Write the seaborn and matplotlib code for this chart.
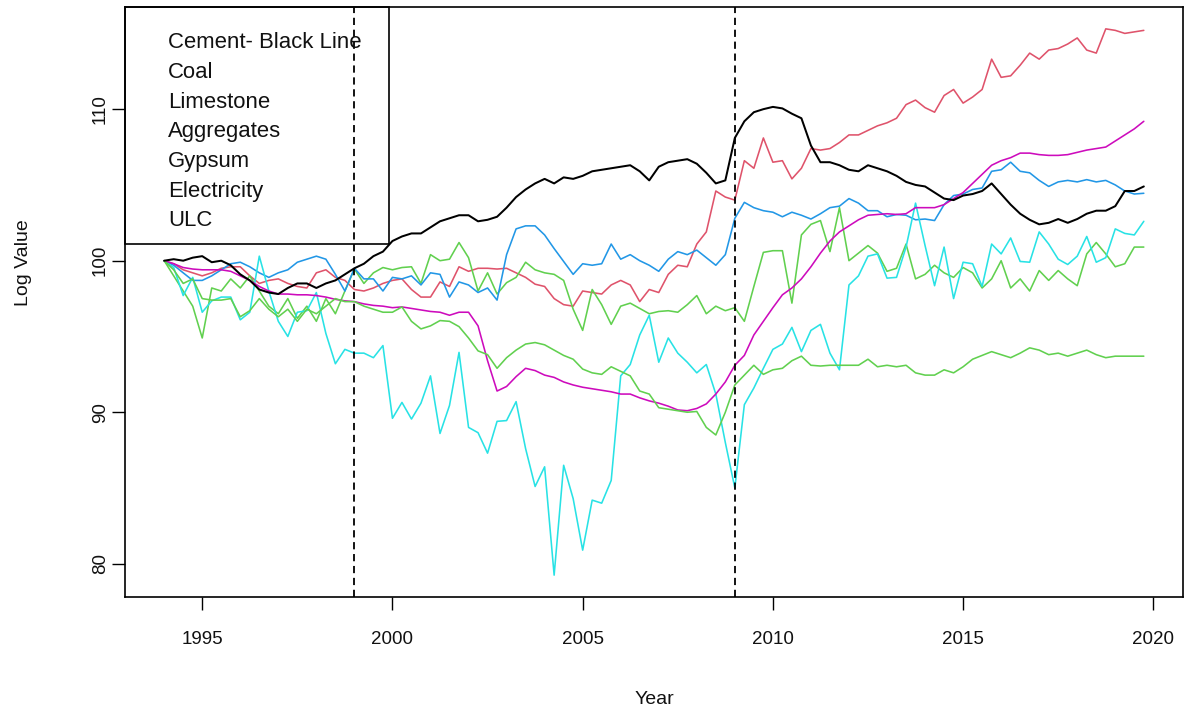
import numpy as np
import pandas as pd
import matplotlib
matplotlib.use("Agg")
import matplotlib.pyplot as plt
import seaborn as sns
from matplotlib.patches import Rectangle

# Quarterly observations, 1994 Q1 .. 2019 Q4
years = 1994 + np.arange(104) / 4.0

cement = [
    100.0, 100.1, 100.0, 100.2, 100.3, 99.9, 100.0, 99.7, 99.1, 98.7,
    98.1, 97.9, 97.8, 98.2, 98.5, 98.5, 98.2, 98.5, 98.7, 99.1,
    99.5, 99.8, 100.3, 100.6, 101.3, 101.6, 101.8, 101.8, 102.2, 102.6,
    102.8, 103.0, 103.0, 102.6, 102.7, 102.9, 103.5, 104.2, 104.7, 105.1,
    105.4, 105.1, 105.5, 105.4, 105.6, 105.9, 106.0, 106.1, 106.2, 106.3,
    105.9, 105.3, 106.2, 106.5, 106.6, 106.7,
    106.4, 105.8, 105.1, 105.3, 108.1, 109.2, 109.8, 110.0, 110.15, 110.05,
    109.7, 109.4, 107.6, 106.5, 106.5, 106.3, 106.0, 105.9, 106.3, 106.1,
    105.9, 105.6, 105.2, 105.0, 104.9, 104.5, 104.1, 104.0, 104.3, 104.4,
    104.6, 105.1, 104.4, 103.7, 103.1, 102.7, 102.4, 102.5, 102.75, 102.5,
    102.75, 103.1, 103.3, 103.3, 103.6, 104.6, 104.6, 104.9,
]

coal = [
    100.0, 99.8, 99.4, 99.2, 99.0, 99.2, 99.5, 99.6, 99.6, 99.0,
    98.5, 98.7, 98.8, 98.5, 98.3, 98.2, 99.2, 99.4, 98.9, 98.7,
    98.1, 98.0, 98.2, 98.5, 98.7, 98.8, 98.1, 97.6, 97.6, 98.6,
    98.3, 99.6, 99.3, 99.5, 99.5, 99.45, 99.5, 99.2, 98.9, 98.45,
    98.3, 97.5, 97.1, 97.0, 98.0, 97.9, 97.8, 98.4, 98.7, 98.4,
    97.3, 98.1, 97.9, 99.1, 99.7, 99.6,
    101.1, 101.9, 104.6, 104.2, 104.0, 106.6, 106.1, 108.1, 106.5, 106.6,
    105.4, 106.1, 107.4, 107.3, 107.4, 107.8, 108.3, 108.3, 108.6, 108.9,
    109.1, 109.4, 110.3, 110.6, 110.1, 109.8, 110.9, 111.3, 110.4, 110.8,
    111.3, 113.3, 112.1, 112.2, 112.9, 113.7, 113.3, 113.9, 114.0, 114.3,
    114.7, 113.9, 113.7, 115.3, 115.2, 115.0, 115.1, 115.2,
]

limestone = [
    100.0, 99.0, 98.0, 97.0, 94.9, 98.2, 98.0, 98.8, 98.2, 99.0,
    98.0, 97.0, 96.5, 97.5, 96.2, 97.0, 96.0, 97.5, 96.5, 98.0,
    99.45, 98.5, 99.2, 99.55, 99.4, 99.55, 99.6, 98.5, 100.4, 100.0,
    100.1, 101.2, 100.2, 98.0, 99.2, 97.8, 98.55, 98.9, 99.9, 99.4,
    99.2, 99.1, 98.7, 96.8, 95.4, 98.1, 97.1, 95.8, 97.0, 97.2,
    96.85, 96.5, 96.65, 96.7, 96.6, 97.1, 97.7, 96.5, 97.0, 96.7,
    96.9, 96.0, 98.3, 100.55, 100.66, 100.66, 97.2, 101.7, 102.4, 102.65,
    100.6, 103.5, 100.0, 100.5, 101.0, 100.5, 99.3, 99.5, 101.1, 98.8,
    99.1, 99.7, 99.2, 98.9, 99.55, 99.2, 98.2, 98.8, 100.0, 98.2,
    98.8, 98.0, 99.35, 98.7, 99.35, 98.8, 98.35, 100.45, 101.2, 100.45,
    99.6, 99.8, 100.9, 100.9,
]

aggregates = [
    100.0, 99.7, 99.2, 98.7, 98.7, 99.0, 99.4, 99.8, 99.9, 99.6,
    99.2, 98.9, 99.2, 99.4, 99.9, 100.1, 100.3, 100.1, 99.1, 98.0,
    99.5, 98.8, 98.8, 98.0, 98.9, 98.8, 99.0, 98.4, 99.2, 99.1,
    97.6, 98.6, 98.4, 97.9, 98.2, 97.4, 100.4, 102.1, 102.3, 102.3,
    101.7, 100.8, 99.95, 99.1, 99.8, 99.7, 99.8, 101.1, 100.1, 100.4,
    100.0, 99.7, 99.3, 100.1, 100.6, 100.4,
    100.7, 100.2, 99.7, 100.4, 102.8, 103.85, 103.5, 103.3, 103.2, 102.9,
    103.2, 103.0, 102.75, 103.1, 103.5, 103.6, 104.1, 103.8, 103.3, 103.3,
    102.9, 103.05, 103.0, 102.7, 102.75, 102.65, 103.7, 104.3, 104.4, 104.7,
    104.8, 105.9, 106.0, 106.5, 105.9, 105.8, 105.3, 104.9, 105.2, 105.3,
    105.2, 105.35, 105.2, 105.3, 105.0, 104.6, 104.4, 104.45,
]

gypsum = [
    100.0, 99.55, 97.7, 98.9, 96.6, 97.35, 97.6, 97.6, 96.1, 96.6,
    100.3, 98.0, 96.0, 95.0, 96.6, 96.7, 97.9, 95.2, 93.2, 94.15,
    93.9, 93.9, 93.6, 94.4, 89.6, 90.65, 89.55, 90.6, 92.4, 88.6,
    90.45, 93.95, 89.0, 88.65, 87.3, 89.4, 89.45, 90.7, 87.6, 85.1,
    86.4, 79.25, 86.5, 84.3, 80.9, 84.2, 84.0, 85.5, 92.4, 93.15,
    95.1, 96.4, 93.3, 94.9, 93.9, 93.3, 92.6, 93.15, 91.2, 88.0,
    85.0, 90.5, 91.6, 92.9, 94.15, 94.5, 95.6, 94.0, 95.4, 95.8,
    93.9, 92.8, 98.4, 99.0, 100.3, 100.45, 98.85, 98.9, 100.9, 103.8,
    101.0, 98.35, 100.9, 97.5, 99.9, 99.8, 98.3, 101.1, 100.45, 101.5,
    99.95, 99.9, 101.9, 101.1, 100.1, 99.75, 100.3, 101.6, 99.9, 100.2,
    102.1, 101.8, 101.7, 102.6,
]

electricity = [
    100.0, 99.8, 99.55, 99.45, 99.4, 99.4, 99.4, 99.3, 99.0, 98.7,
    98.3, 98.0, 97.8, 97.8, 97.75, 97.75, 97.7, 97.6, 97.45, 97.35,
    97.3, 97.15, 97.05, 97.0, 96.9, 96.95, 96.85, 96.75, 96.65, 96.6,
    96.4, 96.6, 96.6, 95.7, 93.4, 91.4, 91.7, 92.35, 92.9, 92.75,
    92.45, 92.3, 92.0, 91.8, 91.65, 91.55, 91.45, 91.35, 91.2, 91.2,
    90.95, 90.75, 90.6, 90.4, 90.15, 90.1,
    90.25, 90.55, 91.2, 92.0, 93.1, 93.75, 95.1, 96.0, 96.9, 97.75,
    98.2, 98.8, 99.6, 100.5, 101.3, 101.9, 102.3, 102.7, 103.0, 103.05,
    103.1, 103.05, 103.1, 103.5, 103.5, 103.5, 103.7, 104.1, 104.5, 105.1,
    105.7, 106.3, 106.6, 106.8, 107.1, 107.1, 107.0, 106.95, 106.95, 107.0,
    107.15, 107.3, 107.4, 107.5, 107.9, 108.3, 108.7, 109.2,
]

ulc = [
    100.0, 99.4, 98.5, 98.8, 97.5, 97.4, 97.4, 97.5, 96.3, 96.7,
    97.5, 96.8, 96.3, 96.8, 96.0, 96.8, 96.5, 97.0, 97.5, 97.3,
    97.3, 97.0, 96.8, 96.6, 96.6, 96.95, 96.0, 95.5, 95.7, 96.05,
    96.0, 95.65, 94.9, 94.05, 93.8, 92.9, 93.6, 94.1, 94.5, 94.6,
    94.45, 94.1, 93.75, 93.5, 92.85, 92.6, 92.5, 93.0, 92.7, 92.4,
    91.4, 91.2, 90.3, 90.2, 90.1, 90.0, 90.05, 89.0, 88.5, 90.0,
    91.8, 92.45, 93.1, 92.5, 92.8, 92.9, 93.4, 93.7, 93.1, 93.05,
    93.1, 93.1, 93.1, 93.1, 93.5, 93.0, 93.1, 93.0, 93.1, 92.6,
    92.45, 92.45, 92.8, 92.6, 93.0, 93.5, 93.75, 94.0, 93.8, 93.6,
    93.9, 94.25, 94.1, 93.8, 93.9, 93.7, 93.9, 94.1, 93.8, 93.6,
    93.7, 93.7, 93.7, 93.7,
]

legend_labels = ["Cement- Black Line", "Coal", "Limestone", "Aggregates",
                 "Gypsum", "Electricity", "ULC"]
series = {
    "Cement": cement,
    "Coal": coal,
    "Limestone": limestone,
    "Aggregates": aggregates,
    "Gypsum": gypsum,
    "Electricity": electricity,
    "ULC": ulc,
}
palette = {
    "Cement": "#000000",
    "Coal": "#DF536B",
    "Limestone": "#61D04F",
    "Aggregates": "#2297E6",
    "Gypsum": "#28E2E5",
    "Electricity": "#CD0BBC",
    "ULC": "#61D04F",
}
break_years = [1999, 2009]
x_ticks = [1995, 2000, 2005, 2010, 2015, 2020]
y_ticks = [80, 90, 100, 110]

df = pd.concat(
    [pd.DataFrame({"Year": years, "Value": v, "Series": k}) for k, v in series.items()],
    ignore_index=True,
)

sns.set_theme(style="white")
plt.rcParams["font.family"] = ["Liberation Sans", "DejaVu Sans"]

fig = plt.figure(figsize=(11.89, 7.13), dpi=100)
ax = fig.add_axes([125 / 1189, 1 - 597 / 713, 1058 / 1189, 590 / 713])

order = ["Coal", "Limestone", "Aggregates", "Gypsum", "Electricity", "ULC", "Cement"]
sns.lineplot(data=df, x="Year", y="Value", hue="Series", hue_order=order,
             palette=palette, legend=False, ax=ax, linewidth=1.15,
             estimator=None, sort=False)
ax.lines[-1].set_linewidth(1.45)

for yr in break_years:
    ax.axvline(yr, color="black", linestyle=(0, (4, 2.6)), linewidth=1.3)

# R-style axis limits: 4% padding around the data range
vals = np.concatenate([np.asarray(v) for v in series.values()])
xr = years.max() - years.min()
yr_ = vals.max() - vals.min()
ax.set_xlim(years.min() - 0.04 * xr, years.max() + 0.04 * xr)
ax.set_ylim(vals.min() - 0.04 * yr_, vals.max() + 0.04 * yr_)

ax.set_xticks(x_ticks)
ax.set_yticks(y_ticks)
ax.set_xticklabels([str(t) for t in x_ticks])
ax.set_yticklabels([str(t) for t in y_ticks], rotation=90, va="center")
ax.tick_params(axis="both", which="major", direction="out", length=9.5,
               width=1.0, color="black", labelsize=13.5, labelcolor="#111111",
               bottom=True, left=True, top=False, right=False)
ax.tick_params(axis="x", pad=15)
ax.tick_params(axis="y", pad=2)
for s in ax.spines.values():
    s.set_color("black")
    s.set_linewidth(1.2)
    s.set_visible(True)
ax.grid(False)
ax.set_facecolor("white")

ax.set_xlabel("Year", fontsize=14, color="#111111")
ax.set_ylabel("Log Value", fontsize=14, color="#111111")
ax.xaxis.set_label_coords(0.5, (597 - 699) / 590)
ax.xaxis.label.set_verticalalignment("center")
ax.yaxis.set_label_coords((23 - 125) / 1058, (597 - 263) / 590)
ax.yaxis.label.set_verticalalignment("center")

# Text-only legend box in the top-left corner
box_right = (389 - 125) / 1058
box_bottom = (597 - 244) / 590
ax.add_patch(Rectangle((0, box_bottom), box_right, 1 - box_bottom,
                       transform=ax.transAxes, fill=False,
                       edgecolor="black", linewidth=1.2, zorder=5,
                       clip_on=False))
for k, lab in enumerate(legend_labels):
    y_px = 48.5 + 29.6 * k
    ax.text((168 - 125) / 1058, (597 - y_px) / 590, lab,
            transform=ax.transAxes, fontsize=15.9, color="#111111",
            va="baseline", ha="left", zorder=6)

fig.savefig("out.png", dpi=100, facecolor="white")
